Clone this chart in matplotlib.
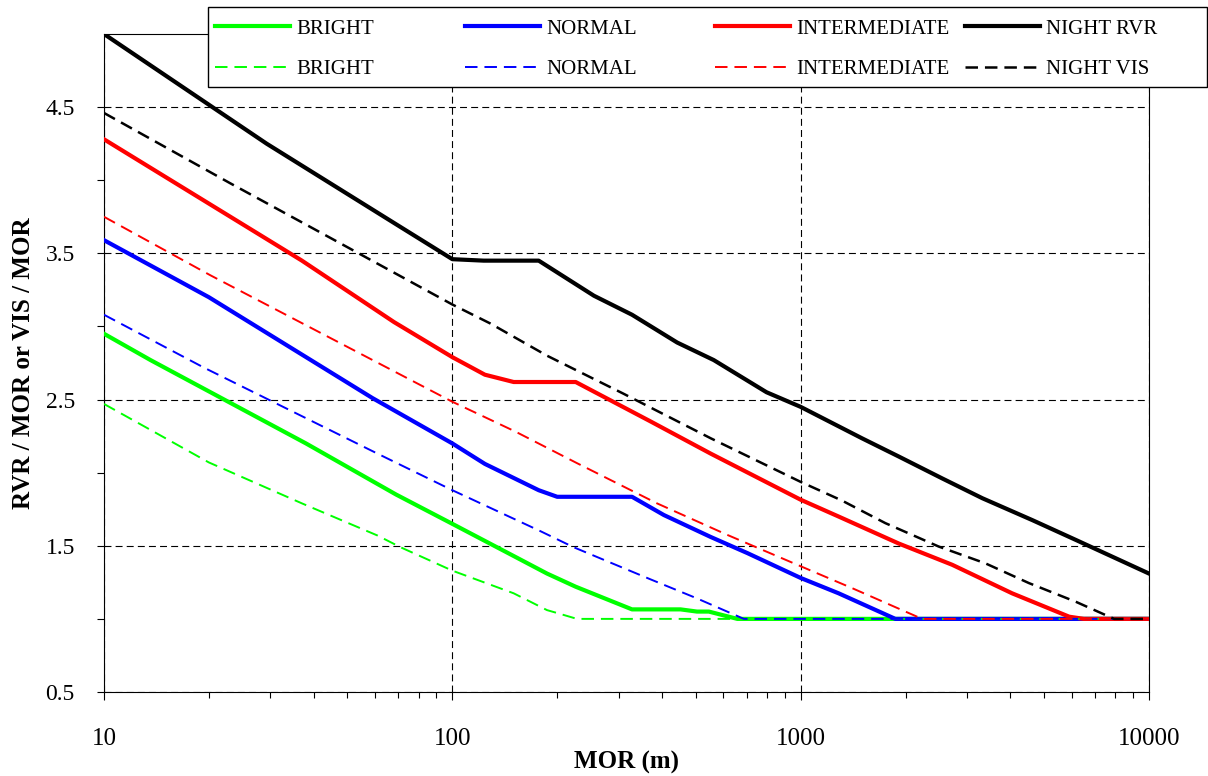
import matplotlib
matplotlib.use("Agg")
import matplotlib.pyplot as plt
from matplotlib.ticker import LogLocator, NullFormatter
from matplotlib.patches import Rectangle

plt.rcParams['font.family'] = ['Liberation Serif', 'DejaVu Serif']
plt.rcParams['lines.scale_dashes'] = False

# BRIGHT (RVR solid / VIS dashed)
bright_rvr_x = [10, 13.6, 38, 69, 100, 150, 187, 226, 328, 452, 504, 545, 658, 10000]
bright_rvr_y = [2.95, 2.77, 2.20, 1.85, 1.65, 1.43, 1.31, 1.22, 1.065, 1.065, 1.05, 1.05, 1.0, 1.0]
bright_vis_x = [10, 20, 37, 61, 71, 100, 150, 187, 200, 228, 10000]
bright_vis_y = [2.47, 2.07, 1.79, 1.57, 1.49, 1.33, 1.175, 1.06, 1.04, 1.0, 1.0]

# NORMAL
normal_rvr_x = [10, 20, 59, 100, 124, 177, 200, 328, 405, 552, 703, 1000, 1285, 1870, 10000]
normal_rvr_y = [3.59, 3.20, 2.51, 2.20, 2.06, 1.88, 1.835, 1.835, 1.71, 1.56, 1.45, 1.28, 1.175, 1.0, 1.0]
normal_vis_x = [10, 19.3, 61, 100, 179, 223, 371, 504, 687, 10000]
normal_vis_y = [3.08, 2.72, 2.13, 1.88, 1.60, 1.49, 1.27, 1.14, 1.0, 1.0]

# INTERMEDIATE
inter_rvr_x = [10, 37, 68, 100, 124, 150, 226, 371, 552, 1000, 1285, 1914, 2723, 4045, 5900, 6500, 10000]
inter_rvr_y = [4.28, 3.45, 3.03, 2.79, 2.67, 2.62, 2.62, 2.35, 2.13, 1.815, 1.70, 1.515, 1.37, 1.175, 1.015, 1.0, 1.0]
inter_vis_x = [10, 20.2, 100, 152, 228, 387, 615, 1000, 1406, 1955, 2232, 10000]
inter_vis_y = [3.75, 3.35, 2.485, 2.28, 2.065, 1.79, 1.575, 1.36, 1.21, 1.06, 1.0, 1.0]

# NIGHT
night_rvr_x = [10, 29.3, 71, 100, 123, 177, 255, 328, 442, 563, 798, 1000, 1500, 1914, 2552, 3325, 4629, 6166, 10000]
night_rvr_y = [5.0, 4.25, 3.68, 3.46, 3.45, 3.45, 3.21, 3.08, 2.89, 2.77, 2.55, 2.45, 2.235, 2.11, 1.96, 1.825, 1.675, 1.54, 1.31]
night_vis_x = [10, 23, 45.5, 100, 128.6, 187, 310, 552, 1000, 1312, 1750, 2489, 3390, 4520, 6166, 7942, 10000]
night_vis_y = [4.46, 3.98, 3.595, 3.15, 3.02, 2.80, 2.54, 2.235, 1.937, 1.81, 1.655, 1.495, 1.38, 1.245, 1.117, 1.0, 1.0]

x_ticks = [10, 100, 1000, 10000]
x_tick_labels = ["10", "100", "1000", "10000"]
y_ticks = [0.5, 1.5, 2.5, 3.5, 4.5]
y_tick_labels = ["0.5", "1.5", "2.5", "3.5", "4.5"]

W, H = 1208, 776
fig = plt.figure(figsize=(W / 100, H / 100), dpi=100)
ax = fig.add_axes([104 / W, 1 - 692 / H, (1149 - 104) / W, (692 - 34) / H])

dash = (0, (9, 5))
solids = [
    (bright_rvr_x, bright_rvr_y, "#00ff00"),
    (normal_rvr_x, normal_rvr_y, "#0000ff"),
    (inter_rvr_x, inter_rvr_y, "#ff0000"),
    (night_rvr_x, night_rvr_y, "black"),
]
dashed = [
    (bright_vis_x, bright_vis_y, "#00ff00", 1.4),
    (normal_vis_x, normal_vis_y, "#0000ff", 1.4),
    (inter_vis_x, inter_vis_y, "#ff0000", 1.4),
    (night_vis_x, night_vis_y, "black", 1.8),
]
solid_lines = []
for x, y, c in solids:
    l, = ax.plot(x, y, color=c, lw=3, solid_joinstyle="round", zorder=3)
    solid_lines.append(l)
dash_lines = []
for x, y, c, w in dashed:
    l, = ax.plot(x, y, color=c, lw=w, linestyle=dash, zorder=4)
    dash_lines.append(l)

ax.set_xscale("log")
ax.set_xlim(10, 10000)
ax.set_ylim(0.5, 5)
ax.set_xticks(x_ticks)
ax.set_xticklabels(x_tick_labels)
ax.xaxis.set_minor_locator(LogLocator(base=10, subs=range(2, 10)))
ax.xaxis.set_minor_formatter(NullFormatter())
ax.set_yticks(y_ticks)
ax.set_yticklabels(y_tick_labels)
ax.set_yticks([1, 2, 3, 4], minor=True)

ax.tick_params(axis="both", which="both", direction="out", width=0.8, labelsize=17)
ax.tick_params(axis="x", which="major", length=6, pad=20, labelsize=18)
ax.tick_params(axis="x", which="minor", length=4.5)
ax.tick_params(axis="y", which="both", length=5, pad=16)

ax.grid(True, which="major", color="black", lw=0.8, linestyle=(0, (5, 3)))
for s in ax.spines.values():
    s.set_linewidth(0.8)
    s.set_color("black")

ax.set_xlabel("MOR (m)", fontsize=18, fontweight="bold")
ax.xaxis.set_label_coords(0.5, (692 - 762) / 658)
ax.xaxis.label.set_va("center")
ax.set_ylabel("RVR / MOR or VIS / MOR", fontsize=18, fontweight="bold")
ax.yaxis.set_label_coords((24 - 104) / 1045, 0.5)
ax.yaxis.label.set_va("center")

# legend frame + four columns
fig.add_artist(Rectangle((208 / W, 1 - 87 / H), (1207 - 208) / W, 80 / H,
                         transform=fig.transFigure, facecolor="white",
                         edgecolor="black", lw=1, zorder=4))
names = [("BRIGHT", "BRIGHT"), ("NORMAL", "NORMAL"),
         ("INTERMEDIATE", "INTERMEDIATE"), ("NIGHT RVR", "NIGHT VIS")]
col_x = [215, 465, 715, 965]
for i in range(4):
    fig.legend([solid_lines[i], dash_lines[i]], list(names[i]),
               loc="upper left", bbox_to_anchor=(col_x[i] / W, 1 - 19 / H),
               frameon=False, fontsize=15, handlelength=3.6,
               handletextpad=0.3, labelspacing=1.0, borderpad=0,
               borderaxespad=0)

fig.savefig("out.png", dpi=100)
